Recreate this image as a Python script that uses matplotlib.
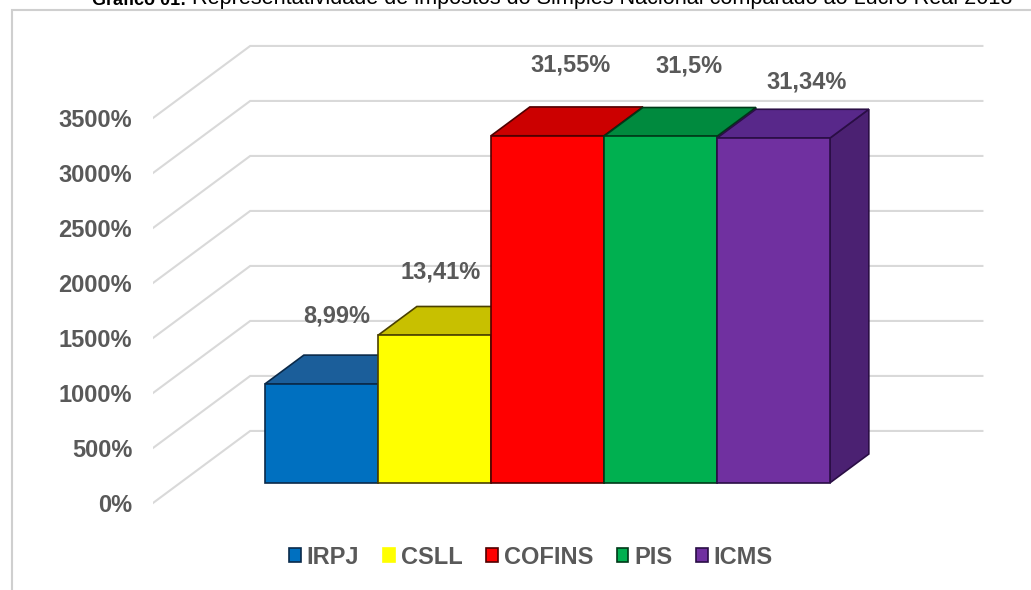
import matplotlib
matplotlib.use("Agg")
import matplotlib.pyplot as plt
from matplotlib.patches import Polygon, Patch, Rectangle

# data (values shown on the axis are the rates x 100)
taxes = ["IRPJ", "CSLL", "COFINS", "PIS", "ICMS"]
values = [899, 1341, 3155, 3150, 3134]
value_labels = ["8,99%", "13,41%", "31,55%", "31,5%", "31,34%"]
yticks = [0, 500, 1000, 1500, 2000, 2500, 3000, 3500]

# colours: front, top, side, edge
front_c = ["#0070C0", "#FFFF00", "#FF0000", "#00B050", "#7030A0"]
top_c = ["#1B5E9A", "#C8C000", "#CC0000", "#008A3E", "#58288A"]
side_c = ["#15497A", "#A09A00", "#A00000", "#006E32", "#4B2172"]
edge_c = ["#0A2A4A", "#4A4000", "#500000", "#003818", "#2A0E45"]

TXT = "#595959"
FONT = "Liberation Sans"

# fake 3d geometry, in data units (x: bar widths, y: percent units)
WALL_X = -0.75        # left wall, front edge
DEPTH_X = 0.86        # floor depth projected on x
DEPTH_Y = 655.0       # floor depth projected on y
BAR_D0, BAR_D1 = 0.28, 0.68   # bar front/back as fraction of depth
GRID_RIGHT = 5.73


def proj(x, v, d):
    return (x + d*DEPTH_X, v + d*DEPTH_Y)


fig = plt.figure(figsize=(10.31, 5.90), dpi=100)
W, H = 1031.0, 590.0

# axes: left edge at the front of the left wall
ax = fig.add_axes([153/W, 0.0, 1 - 153/W, 1.0])
ax.set_xlim(WALL_X, WALL_X + 878/113.0)
ax.set_ylim(-87/0.11, 503/0.11)
for s in ax.spines.values():
    s.set_visible(False)
ax.set_xticks([])
ax.set_yticks(yticks)
ax.set_yticklabels([f"{v}%" for v in yticks], fontsize=17, fontweight="bold",
                   color=TXT, family=FONT)
ax.tick_params(axis="y", length=0, pad=15)
ax.patch.set_alpha(0)

# gridlines: diagonal on the side wall, flat on the back wall
for v in yticks:
    p0 = proj(WALL_X, v, 0)
    p1 = proj(WALL_X, v, 1)
    p2 = proj(GRID_RIGHT, v, 1)
    ax.plot([p0[0], p1[0], p2[0]], [p0[1], p1[1], p2[1]],
            color="#d9d9d9", lw=1.5, zorder=1, solid_joinstyle="miter")

# bars
for i, v in enumerate(values):
    x0, x1 = i, i + 1
    front = [proj(x0, 0, BAR_D0), proj(x1, 0, BAR_D0),
             proj(x1, v, BAR_D0), proj(x0, v, BAR_D0)]
    top = [proj(x0, v, BAR_D0), proj(x1, v, BAR_D0),
           proj(x1, v, BAR_D1), proj(x0, v, BAR_D1)]
    side = [proj(x1, 0, BAR_D0), proj(x1, 0, BAR_D1),
            proj(x1, v, BAR_D1), proj(x1, v, BAR_D0)]
    for pts, col in [(side, side_c[i]), (top, top_c[i]), (front, front_c[i])]:
        ax.add_patch(Polygon(pts, closed=True, facecolor=col,
                             edgecolor=edge_c[i], lw=1.2, zorder=3 + i,
                             joinstyle="miter"))

# value labels, nudged like the original
lab_dx = [-24, -33, -16, -10, -6]
lab_dy = [39, 34, 42, 42, 27]
for i, v in enumerate(values):
    xy = proj(i + 0.5, v, BAR_D1)
    ax.annotate(value_labels[i], xy=xy, xytext=(lab_dx[i], lab_dy[i]),
                textcoords="offset pixels", ha="center", va="center",
                fontsize=17, fontweight="bold", color=TXT, family=FONT,
                zorder=10)

# legend
handles = [Patch(facecolor=front_c[i],
                 edgecolor=(front_c[i] if i == 1 else edge_c[i]),
                 lw=1.2, label=taxes[i]) for i in range(len(taxes))]
fig.legend(handles=handles, loc="center", ncol=5,
           bbox_to_anchor=(531/W, 1 - 557/H), frameon=False,
           handlelength=0.5, handleheight=0.5, handletextpad=0.25,
           columnspacing=1.0,
           prop={"family": FONT, "weight": "bold", "size": 17},
           labelcolor=TXT)

# chart frame (top and left edges only are visible)
fig.patches.append(Rectangle((12/W, -0.05), 1.1, 1 - 10/H + 0.05,
                             transform=fig.transFigure, fill=False,
                             edgecolor="#cfcfcf", lw=1.5))

# title, cut off at the top like the source
t1 = fig.text(92/W, 1 - 5/H, "Gráfico 01:", fontsize=13, fontweight="bold",
              family=FONT, ha="left", va="baseline")
ax.annotate(" Representatividade de impostos do Simples Nacional comparado ao Lucro Real 2018",
            xy=(1, 0), xycoords=t1, va="bottom", ha="left",
            fontsize=15.6, family=FONT, annotation_clip=False)

fig.savefig("out.png", dpi=100)
